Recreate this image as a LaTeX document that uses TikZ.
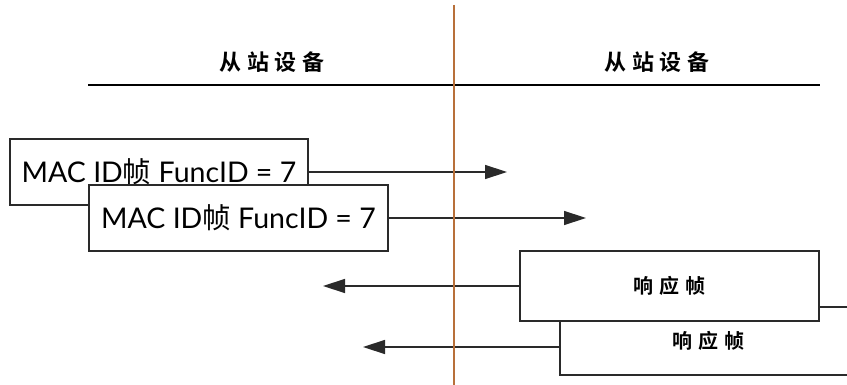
\documentclass[tikz,border=0pt]{standalone}
\usepackage{fontspec}
\setmainfont{Lato}
\newfontfamily\cjk{Noto Sans CJK SC}
\newfontfamily\cjkb{Noto Sans CJK SC Bold}
\usetikzlibrary{arrows.meta}
\definecolor{divider}{HTML}{B8703A}
\definecolor{linegray}{HTML}{2A2A2A}
\tikzset{
  framebox/.style={draw=linegray, line width=1.2pt, fill=white, inner sep=0pt, anchor=center},
  msgarrow/.style={draw=linegray, line width=1.4pt, -{Triangle[length=22pt,width=14pt]}},
  head/.style={font=\cjkb\fontsize{22}{26}\selectfont},
  mactext/.style={font=\fontsize{28.5}{33}\selectfont},
  resptext/.style={font=\cjkb\fontsize{20}{24}\selectfont},
}
\begin{document}
\begin{tikzpicture}[x=1pt,y=-1pt]
\useasboundingbox[fill=white] (0,0) rectangle (847,385);
% header
\coordinate (hl) at (88,85);
\coordinate (hr) at (820,85);
\draw[line width=2.6pt, black] (hl) -- (hr);
\node[head] (h1) at (272,62) {从\hspace{0.25em}站\hspace{0.25em}设\hspace{0.25em}备};
\node[head] (h2) at (657,62) {从\hspace{0.25em}站\hspace{0.25em}设\hspace{0.25em}备};
% request frames
\node[framebox, minimum width=298pt, minimum height=66pt, mactext] (b1) at (159,172) {MAC ID{\cjk 帧} FuncID = 7};
\node[framebox, minimum width=299pt, minimum height=66pt, mactext] (b2) at (238.5,218) {MAC ID{\cjk 帧} FuncID = 7};
\coordinate (t1) at (507,172);
\coordinate (t2) at (586,218);
\draw[msgarrow] (b1.east) -- (t1);
\draw[msgarrow] (b2.east) -- (t2);
% response frames
\node[framebox, minimum width=296pt, minimum height=68pt, resptext] (b4) at (708,341) {响\hspace{0.3em}应\hspace{0.3em}帧};
\node[framebox, minimum width=299pt, minimum height=70pt, resptext] (b3) at (669.5,286) {响\hspace{0.3em}应\hspace{0.3em}帧};
\coordinate (t3) at (323,286);
\coordinate (t4) at (363,347);
\draw[msgarrow] (b3.west) -- (t3);
\draw[msgarrow] ([yshift=-6pt]b4.west) -- (t4);
% divider
\coordinate (vt) at (454,5);
\coordinate (vb) at (454,385);
\draw[line width=2pt, divider] (vt) -- (vb);
\end{tikzpicture}
\end{document}
